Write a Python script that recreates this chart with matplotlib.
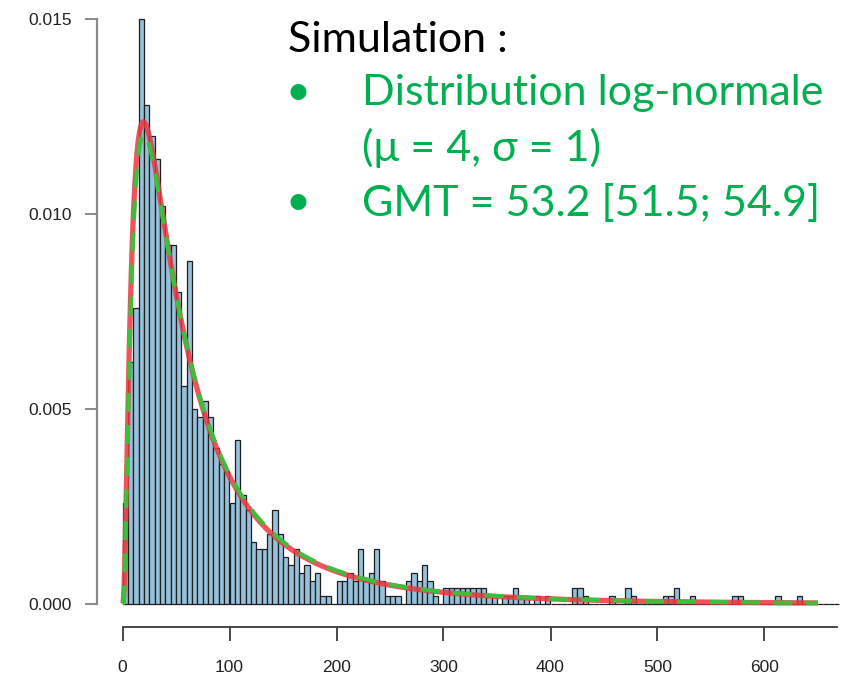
import numpy as np
import matplotlib
matplotlib.use("Agg")
import matplotlib.pyplot as plt

# ---- data -------------------------------------------------------------
bin_width = 5
# histogram densities, one per 5-unit bin starting at 0
densities = [
    0.0026, 0.0062, 0.0076, 0.0150, 0.0128, 0.0120, 0.0114, 0.0102, 0.0092, 0.0092,
    0.0080, 0.0056, 0.0088, 0.0050, 0.0048, 0.0052, 0.0048, 0.0040, 0.0036, 0.0034,
    0.0026, 0.0042, 0.0028, 0.0024, 0.0016, 0.0014, 0.0014, 0.0018, 0.0024, 0.0018,
    0.0012, 0.0010, 0.0014, 0.0008, 0.0010, 0.0006, 0.0008, 0.0002, 0.0002, 0.0000,
    0.0006, 0.0006, 0.0008, 0.0006, 0.0014, 0.0006, 0.0008, 0.0014, 0.0006, 0.0002,
    0.0002, 0.0002, 0.0000, 0.0006, 0.0008, 0.0006, 0.0010, 0.0006, 0.0002, 0.0000,
    0.0004, 0.0004, 0.0004, 0.0004, 0.0004, 0.0004, 0.0004, 0.0004, 0.0002, 0.0002,
    0.0000, 0.0002, 0.0002, 0.0004, 0.0002, 0.0002, 0.0000, 0.0002, 0.0000, 0.0002,
    0.0000, 0.0000, 0.0000, 0.0000, 0.0004, 0.0004, 0.0002, 0.0000, 0.0000, 0.0000,
    0.0000, 0.0002, 0.0000, 0.0000, 0.0004, 0.0002, 0.0000, 0.0000, 0.0000, 0.0000,
    0.0000, 0.0002, 0.0002, 0.0004, 0.0000, 0.0000, 0.0002, 0.0000, 0.0000, 0.0000,
    0.0000, 0.0000, 0.0000, 0.0000, 0.0002, 0.0002, 0.0000, 0.0000, 0.0000, 0.0000,
    0.0000, 0.0000, 0.0002, 0.0000, 0.0000, 0.0000, 0.0002, 0.0000, 0.0000, 0.0000,
    0.0000, 0.0000, 0.0000, 0.0000,
]
# log-normal curves (meanlog, sdlog)
fit_mu, fit_sigma = np.log(53.2), 1.0     # red solid
true_mu, true_sigma = 4.0, 1.0            # green dashed
curve_max = 650

x_ticks = [0, 100, 200, 300, 400, 500, 600]
y_ticks = [0.000, 0.005, 0.010, 0.015]
y_tick_labels = ["0.000", "0.005", "0.010", "0.015"]

title_line = "Simulation :"
bullet_lines = ["Distribution log-normale", "(\u03bc = 4, \u03c3 = 1)", "GMT = 53.2 [51.5; 54.9]"]


def lognorm_pdf(x, mu, sigma):
    out = np.zeros_like(x)
    m = x > 0
    out[m] = np.exp(-(np.log(x[m]) - mu) ** 2 / (2 * sigma ** 2)) / (x[m] * sigma * np.sqrt(2 * np.pi))
    return out


# ---- figure -----------------------------------------------------------
W, H = 850, 684
fig = plt.figure(figsize=(W / 100, H / 100), dpi=100)
ax_left, ax_right, ax_top, ax_bottom = 97, 840, 0, 627
ax = fig.add_axes([ax_left / W, 1 - ax_bottom / H, (ax_right - ax_left) / W, (ax_bottom - ax_top) / H])

x0_px, px_per_unit = 122.5, 1.07
y0_px, px_per_dens = 604, 39000
ax.set_xlim((ax_left - x0_px) / px_per_unit, (ax_right - x0_px) / px_per_unit)
ax.set_ylim(-(ax_bottom - y0_px) / px_per_dens, (y0_px - ax_top) / px_per_dens)

edges = np.arange(len(densities)) * bin_width
ax.bar(edges, densities, width=bin_width, align="edge",
       facecolor="#97c0da", edgecolor="#1e1e1e", linewidth=0.9, zorder=2)

xs = np.linspace(0, curve_max, 1200)
ax.plot(xs, lognorm_pdf(xs, fit_mu, fit_sigma), color="#e8383d", lw=3.8,
        alpha=0.85, solid_capstyle="butt", zorder=3)
ax.plot(xs, lognorm_pdf(xs, true_mu, true_sigma), color="#3cc03c", lw=3.0,
        dashes=(4.5, 3.2), zorder=4)

for s in ["top", "right"]:
    ax.spines[s].set_visible(False)
ax.spines["left"].set_bounds(0, 0.015)
ax.spines["left"].set_color("#8a8a8a")
ax.spines["left"].set_linewidth(1.6)
ax.spines["bottom"].set_bounds(0, 668)
ax.spines["bottom"].set_color("#3a3a3a")
ax.spines["bottom"].set_linewidth(1.3)

ax.set_xticks(x_ticks)
ax.set_xticklabels([str(t) for t in x_ticks])
ax.set_yticks(y_ticks)
ax.set_yticklabels(y_tick_labels)
ax.tick_params(axis="y", length=9, width=1.4, color="#8a8a8a", pad=9,
               labelsize=12.5, labelcolor="#222222")
ax.tick_params(axis="x", length=10, width=1.3, color="#3a3a3a", pad=14,
               labelsize=12.5, labelcolor="#222222")
for lab in ax.get_xticklabels() + ax.get_yticklabels():
    lab.set_family(["Liberation Sans", "DejaVu Sans"])
ax.patch.set_alpha(0)

# ---- annotation text ------------------------------------------------
fam = ["Lato", "DejaVu Sans"]
green = "#00b050"
fs = 31
fig.text(288 / W, 1 - 40 / H, title_line, color="black", fontsize=fs, family=fam, va="center", ha="left")
rows = [(93, "\u2022", bullet_lines[0]), (148, None, bullet_lines[1]), (203, "\u2022", bullet_lines[2])]
for y, b, t in rows:
    if b:
        fig.text(286 / W, 1 - y / H, b, color=green, fontsize=fs, family=fam, va="center", ha="left")
    fig.text(362 / W, 1 - y / H, t, color=green, fontsize=fs, family=fam, va="center", ha="left")

fig.savefig("out.png", dpi=100)
